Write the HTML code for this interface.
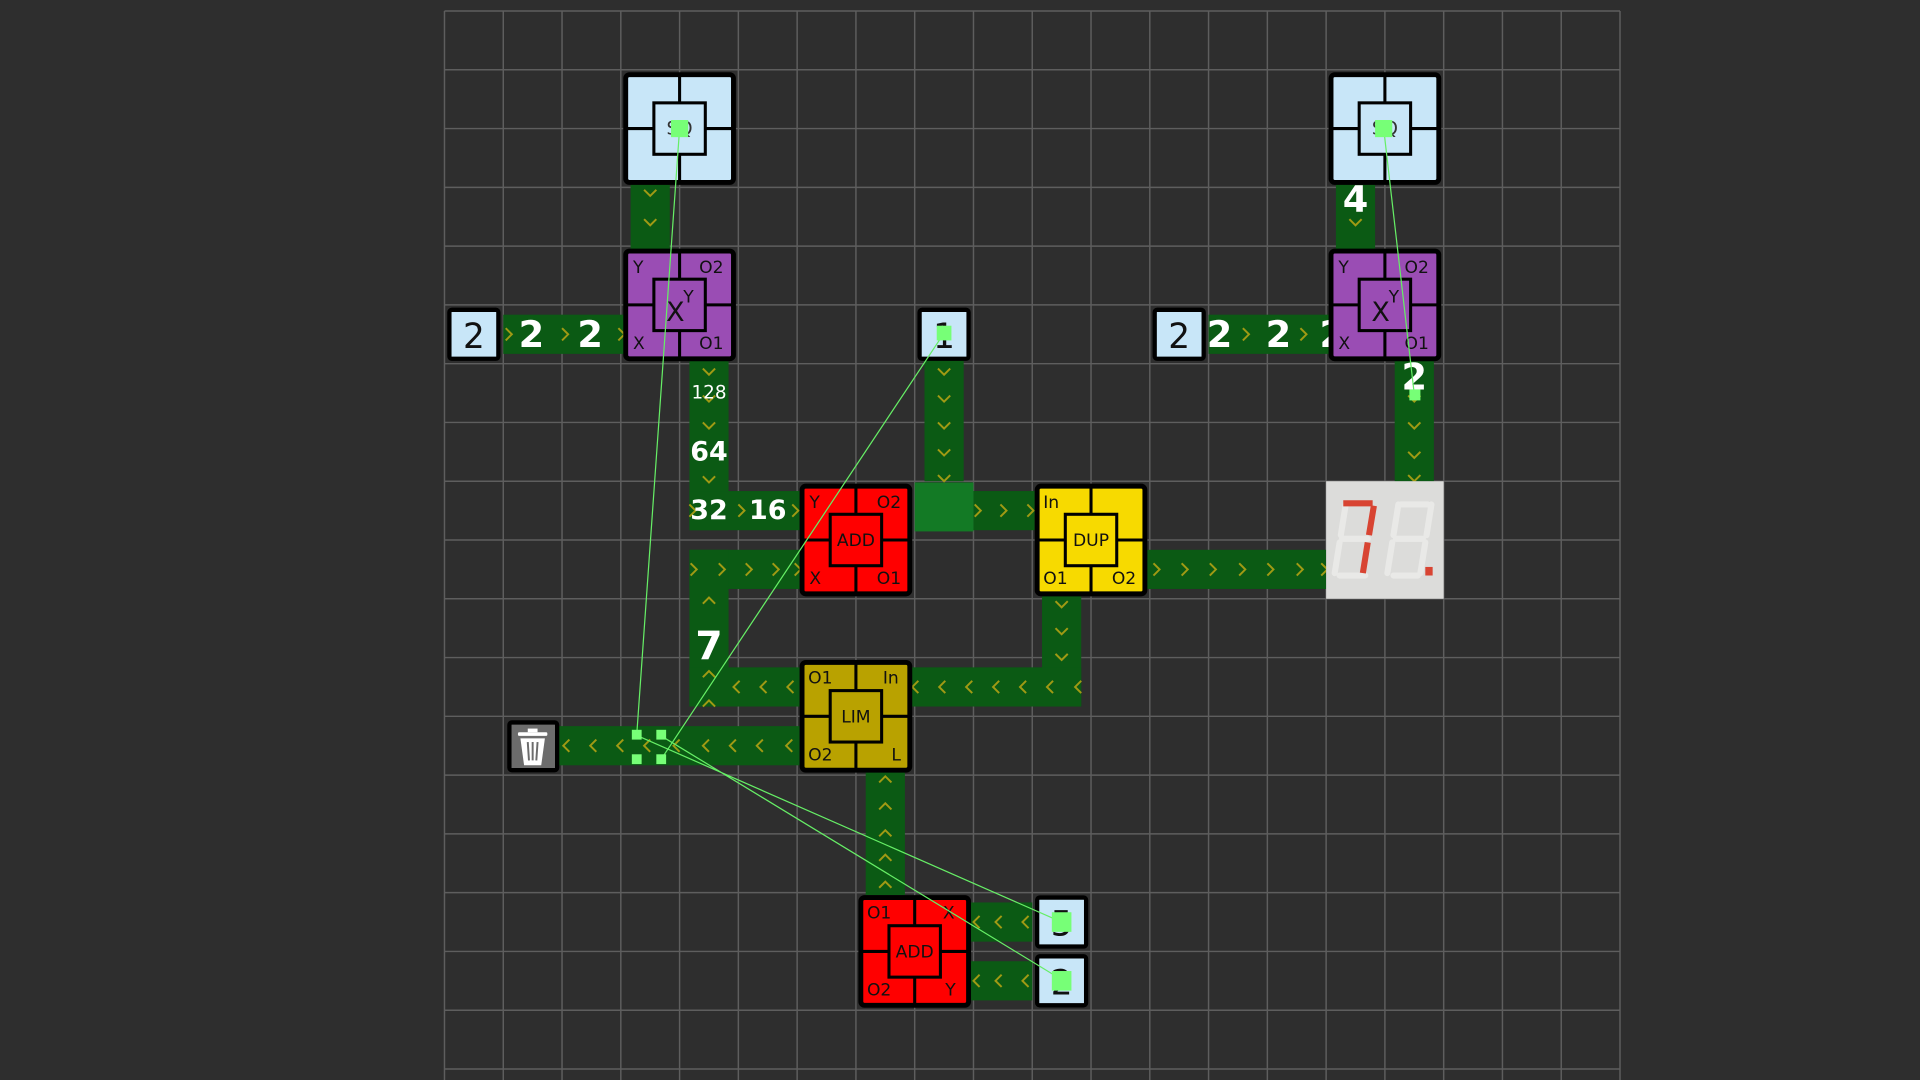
<!DOCTYPE html>
<html><head><meta charset="utf-8"><style>
html,body{margin:0;padding:0;background:#2e2e2e;width:1920px;height:1080px;overflow:hidden}
svg{display:block}
text{font-family:"DejaVu Sans","Liberation Sans",sans-serif}
.l{font-size:14px;fill:#111}
.n{font-size:30px;fill:#fff;font-weight:bold;text-anchor:middle;dominant-baseline:central}
.c{fill:none;stroke:#a09a14;stroke-width:1.6}
</style></head><body>
<svg width="1920" height="1080" viewBox="0 0 1568 882" xmlns="http://www.w3.org/2000/svg">
<defs>
<polyline id="cd" class="c" points="-5,-3 0,2 5,-3"/>
<polyline id="cr" class="c" points="-3,-5 2,0 -3,5"/>
<polyline id="cl" class="c" points="3,-5 -2,0 3,5"/>
<polyline id="cu" class="c" points="-5,3 0,-2 5,3"/>
</defs>
<rect width="1568" height="882" fill="#2e2e2e"/>
<g stroke="#5e5e5e" stroke-width="1.2">
<path d="M363 9V882M411 9V882M459 9V882M507 9V882M555 9V882M603 9V882M651 9V882M699 9V882M747 9V882M795 9V882M843 9V882M891 9V882M939 9V882M987 9V882M1035 9V882M1083 9V882M1131 9V882M1179 9V882M1227 9V882M1275 9V882M1323 9V882"/>
<path d="M363 9H1323M363 57H1323M363 105H1323M363 153H1323M363 201H1323M363 249H1323M363 297H1323M363 345H1323M363 393H1323M363 441H1323M363 489H1323M363 537H1323M363 585H1323M363 633H1323M363 681H1323M363 729H1323M363 777H1323M363 825H1323M363 873H1323"/>
</g>
<!-- belts -->
<g fill="#0b5a14">
<rect x="411" y="257" width="100" height="32"/>
<rect x="987" y="257" width="100" height="32"/>
<rect x="515" y="149" width="32" height="56"/>
<rect x="1091" y="149" width="32" height="56"/>
<rect x="1139" y="293" width="32" height="100"/>
<rect x="563" y="293" width="32" height="140"/>
<rect x="563" y="401" width="90" height="32"/>
<rect x="563" y="449" width="90" height="32"/>
<rect x="563" y="449" width="32" height="128"/>
<rect x="563" y="545" width="90" height="32"/>
<rect x="755" y="293" width="32" height="100"/>
<rect x="795" y="401" width="50" height="32"/>
<rect x="935" y="449" width="148" height="32"/>
<rect x="851" y="485" width="32" height="92"/>
<rect x="743" y="545" width="140" height="32"/>
<rect x="455" y="593" width="198" height="32"/>
<rect x="707" y="629" width="32" height="102"/>
<rect x="791" y="737" width="52" height="32"/>
<rect x="791" y="785" width="52" height="32"/>
</g>
<rect x="747" y="394" width="48" height="40" fill="#137a25"/>
<!-- chevrons -->
<g>
<use href="#cd" x="531" y="158"/><use href="#cd" x="531" y="182"/>
<use href="#cr" x="416" y="273"/><use href="#cr" x="462" y="273"/><use href="#cr" x="508" y="273"/>
<use href="#cr" x="1018" y="273"/><use href="#cr" x="1065" y="273"/>
<use href="#cd" x="1107" y="182"/>
<use href="#cd" x="1155" y="326"/><use href="#cd" x="1155" y="348"/><use href="#cd" x="1155" y="372"/><use href="#cd" x="1155" y="391"/>
<use href="#cd" x="579" y="304"/><use href="#cd" x="579" y="326"/><use href="#cd" x="579" y="348"/><use href="#cd" x="579" y="392"/>
<use href="#cr" x="566" y="417"/><use href="#cr" x="606" y="417"/><use href="#cr" x="650" y="417"/>
<use href="#cr" x="567" y="465"/><use href="#cr" x="590" y="465"/><use href="#cr" x="612" y="465"/><use href="#cr" x="634" y="465"/><use href="#cr" x="652" y="465"/>
<use href="#cu" x="579" y="490"/><use href="#cu" x="579" y="550"/><use href="#cu" x="579" y="574"/>
<use href="#cl" x="601" y="561"/><use href="#cl" x="623" y="561"/><use href="#cl" x="645" y="561"/>
<use href="#cd" x="771" y="304"/><use href="#cd" x="771" y="326"/><use href="#cd" x="771" y="348"/><use href="#cd" x="771" y="370"/><use href="#cd" x="771" y="391"/>
<use href="#cr" x="799" y="417"/><use href="#cr" x="820" y="417"/><use href="#cr" x="842" y="417"/>
<use href="#cr" x="945" y="465"/><use href="#cr" x="968" y="465"/><use href="#cr" x="991" y="465"/><use href="#cr" x="1015" y="465"/><use href="#cr" x="1038" y="465"/><use href="#cr" x="1062" y="465"/><use href="#cr" x="1082" y="465"/>
<use href="#cd" x="867" y="494"/><use href="#cd" x="867" y="516"/><use href="#cd" x="867" y="537"/>
<use href="#cl" x="747" y="561"/><use href="#cl" x="769" y="561"/><use href="#cl" x="791" y="561"/><use href="#cl" x="813" y="561"/><use href="#cl" x="835" y="561"/><use href="#cl" x="857" y="561"/><use href="#cl" x="880" y="561"/>
<use href="#cl" x="462" y="609"/><use href="#cl" x="484" y="609"/><use href="#cl" x="506" y="609"/><use href="#cl" x="528" y="609"/><use href="#cl" x="552" y="609"/><use href="#cl" x="576" y="609"/><use href="#cl" x="598" y="609"/><use href="#cl" x="620" y="609"/><use href="#cl" x="644" y="609"/>
<use href="#cu" x="723" y="636"/><use href="#cu" x="723" y="658"/><use href="#cu" x="723" y="680"/><use href="#cu" x="723" y="700"/><use href="#cu" x="723" y="722"/>
<use href="#cl" x="797" y="753"/><use href="#cl" x="815" y="753"/><use href="#cl" x="837" y="753"/>
<use href="#cl" x="797" y="801"/><use href="#cl" x="815" y="801"/><use href="#cl" x="837" y="801"/>
</g>
<!-- belt numbers -->
<text class="n" x="434" y="273">2</text><text class="n" x="482" y="273">2</text>
<text class="n" x="996" y="273">2</text><text class="n" x="1044" y="273">2</text><text class="n" x="1088" y="273">2</text>
<text class="n" x="1107" y="163">4</text>
<text class="n" x="1155" y="308">2</text>
<text class="n" x="579" y="321" style="font-size:15px;font-weight:normal">128</text>
<text class="n" x="579" y="369" style="font-size:22px">64</text>
<text class="n" x="579" y="417" style="font-size:22px">32</text>
<text class="n" x="627" y="417" style="font-size:22px">16</text>
<text class="n" x="579" y="528" style="font-size:32px">7</text>
<!-- 2x2 blocks -->
<g stroke="#000">
<g transform="translate(507,57)"><rect x="4" y="4" width="88" height="88" rx="3" fill="#c8e6f8" stroke-width="4"/><path d="M48 4V92M4 48H92" stroke-width="2.5"/><rect x="27" y="27" width="42" height="42" fill="#c8e6f8" stroke-width="2.5"/></g>
<g transform="translate(1083,57)"><rect x="4" y="4" width="88" height="88" rx="3" fill="#c8e6f8" stroke-width="4"/><path d="M48 4V92M4 48H92" stroke-width="2.5"/><rect x="27" y="27" width="42" height="42" fill="#c8e6f8" stroke-width="2.5"/></g>
<g transform="translate(507,201)"><rect x="4" y="4" width="88" height="88" rx="3" fill="#9a4db4" stroke-width="4"/><path d="M48 4V92M4 48H92" stroke-width="2.5"/><rect x="27" y="27" width="42" height="42" fill="#9a4db4" stroke-width="2.5"/></g>
<g transform="translate(1083,201)"><rect x="4" y="4" width="88" height="88" rx="3" fill="#9a4db4" stroke-width="4"/><path d="M48 4V92M4 48H92" stroke-width="2.5"/><rect x="27" y="27" width="42" height="42" fill="#9a4db4" stroke-width="2.5"/></g>
<g transform="translate(651,393)"><rect x="4" y="4" width="88" height="88" rx="3" fill="#ff0000" stroke-width="4"/><path d="M48 4V92M4 48H92" stroke-width="2.5"/><rect x="27" y="27" width="42" height="42" fill="#ff0000" stroke-width="2.5"/></g>
<g transform="translate(843,393)"><rect x="4" y="4" width="88" height="88" rx="3" fill="#f7da00" stroke-width="4"/><path d="M48 4V92M4 48H92" stroke-width="2.5"/><rect x="27" y="27" width="42" height="42" fill="#f7da00" stroke-width="2.5"/></g>
<g transform="translate(651,537)"><rect x="4" y="4" width="88" height="88" rx="3" fill="#b9a200" stroke-width="4"/><path d="M48 4V92M4 48H92" stroke-width="2.5"/><rect x="27" y="27" width="42" height="42" fill="#b9a200" stroke-width="2.5"/></g>
<g transform="translate(699,729)"><rect x="4" y="4" width="88" height="88" rx="3" fill="#ff0000" stroke-width="4"/><path d="M48 4V92M4 48H92" stroke-width="2.5"/><rect x="27" y="27" width="42" height="42" fill="#ff0000" stroke-width="2.5"/></g>
<!-- 1x1 -->
<rect x="367" y="253" width="40" height="40" rx="2" fill="#c8e6f8" stroke-width="3.5"/>
<rect x="943" y="253" width="40" height="40" rx="2" fill="#c8e6f8" stroke-width="3.5"/>
<rect x="751" y="253" width="40" height="40" rx="2" fill="#c8e6f8" stroke-width="3.5"/>
<rect x="847" y="733" width="40" height="40" rx="2" fill="#c8e6f8" stroke-width="3.5"/>
<rect x="847" y="781" width="40" height="40" rx="2" fill="#c8e6f8" stroke-width="3.5"/>
<rect x="416" y="590" width="39" height="39" rx="2" fill="#6c6c6c" stroke-width="3.5"/>
</g>
<!-- trash -->
<g fill="#fff">
<rect x="423" y="598" width="24" height="3" rx="1"/><rect x="431" y="595" width="8" height="3"/>
<path d="M425 603H445L442 625H428Z"/>
</g>
<g stroke="#6c6c6c" stroke-width="1.6"><path d="M431 606L432 621M435 606V621M439 606L438 621"/></g>
<!-- box labels -->
<g style="font-size:28px;fill:#111;text-anchor:middle">
<text x="387" y="284">2</text><text x="963" y="284">2</text><text x="771" y="284">1</text>
<text x="867" y="764">5</text><text x="867" y="812">2</text>
</g>
<!-- block labels -->
<text class="l" x="517" y="223">Y</text><text class="l" x="571" y="223">O2</text><text class="l" x="517" y="285">X</text><text class="l" x="571" y="285">O1</text>
<text x="544" y="262" style="font-size:22px;fill:#111">X</text><text x="558" y="247" style="font-size:14px;fill:#111">Y</text>
<text class="l" x="1093" y="223">Y</text><text class="l" x="1147" y="223">O2</text><text class="l" x="1093" y="285">X</text><text class="l" x="1147" y="285">O1</text>
<text x="1120" y="262" style="font-size:22px;fill:#111">X</text><text x="1134" y="247" style="font-size:14px;fill:#111">Y</text>
<text x="555" y="110" style="font-size:15px;fill:#333;text-anchor:middle">SQ</text>
<text x="1131" y="110" style="font-size:15px;fill:#333;text-anchor:middle">SQ</text>
<text class="l" x="661" y="415">Y</text><text class="l" x="716" y="415">O2</text><text class="l" x="661" y="477">X</text><text class="l" x="716" y="477">O1</text>
<text x="699" y="446" style="font-size:14px;fill:#111;text-anchor:middle">ADD</text>
<text class="l" x="852" y="415">In</text><text class="l" x="852" y="477">O1</text><text class="l" x="908" y="477">O2</text>
<text x="891" y="446" style="font-size:14px;fill:#111;text-anchor:middle">DUP</text>
<text class="l" x="660" y="558">O1</text><text class="l" x="721" y="558">In</text><text class="l" x="660" y="621">O2</text><text class="l" x="728" y="621">L</text>
<text x="699" y="590" style="font-size:14px;fill:#111;text-anchor:middle">LIM</text>
<text class="l" x="708" y="750">O1</text><text class="l" x="770" y="750">X</text><text class="l" x="708" y="813">O2</text><text class="l" x="772" y="813">Y</text>
<text x="747" y="782" style="font-size:14px;fill:#111;text-anchor:middle">ADD</text>
<!-- 7-seg display -->
<rect x="1083" y="393" width="96" height="96" fill="#dcdcda"/>
<g stroke="#e9e9e7" stroke-width="5" stroke-linecap="round" fill="none">
<path d="M1099 412L1095 437M1094 443L1090 468M1094 470H1115M1096 440H1117"/>
<path d="M1144 412H1166M1142 412L1138 437M1169 412L1165 437M1140 440H1162M1137 443L1133 468M1164 443L1160 468M1138 470H1158"/>
</g>
<g stroke="#d84432" stroke-width="5" fill="none" stroke-linecap="butt">
<path d="M1097 411H1121M1122 413L1118 437M1117 443L1113 468"/>
</g>
<rect x="1164" y="463" width="6" height="7" fill="#d84432"/>
<!-- wires -->
<g stroke="#66ee66" stroke-width="1">
<path d="M555 105L520 600M1130 105L1155 322M771 272L540 620M521 601L867 753M540 601L867 800"/>
</g>
<g fill="#77ff77">
<rect x="548" y="98" width="14" height="14"/><rect x="1123" y="98" width="14" height="14"/>
<rect x="765" y="266" width="12" height="12"/><rect x="1151" y="318" width="9" height="9"/>
<rect x="516" y="596" width="8" height="8"/><rect x="536" y="596" width="8" height="8"/>
<rect x="516" y="616" width="8" height="8"/><rect x="536" y="616" width="8" height="8"/>
<rect x="859" y="745" width="16" height="16"/><rect x="859" y="793" width="16" height="16"/>
</g>
</svg>
</body></html>
